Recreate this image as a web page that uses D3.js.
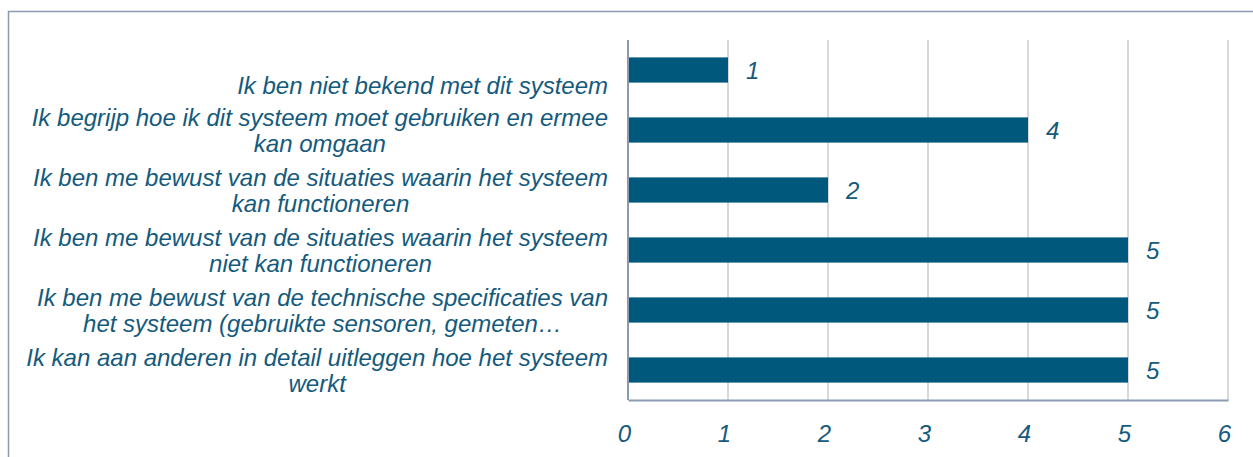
<!DOCTYPE html>
<html>
<head>
<meta charset="utf-8">
<script src="https://cdn.jsdelivr.net/npm/d3@7"></script>
<style>
  html, body { margin: 0; padding: 0; background: #fff; }
  svg { display: block; }
  text { font-family: "Liberation Sans", Arial, sans-serif; font-style: italic; fill: #145a7c; }
</style>
</head>
<body>
<div id="chart"></div>
<script>
// statements, top to bottom, each split into the lines shown
var categories = [
  ["Ik ben niet bekend met dit systeem"],
  ["Ik begrijp hoe ik dit systeem moet gebruiken en ermee", "kan omgaan"],
  ["Ik ben me bewust van de situaties waarin het systeem", "kan functioneren"],
  ["Ik ben me bewust van de situaties waarin het systeem", "niet kan functioneren"],
  ["Ik ben me bewust van de technische specificaties van", "het systeem (gebruikte sensoren, gemeten\u2026"],
  ["Ik kan aan anderen in detail uitleggen hoe het systeem", "werkt"]
];
var values    = [1, 4, 2, 5, 5, 5];
var tickVals  = [0, 1, 2, 3, 4, 5, 6];

var width  = 1253;
var height = 457;
var margin = { top: 40, right: 25, bottom: 57, left: 628 };

var svg = d3.select("#chart").append("svg")
  .attr("width", width)
  .attr("height", height);

// chart frame (only top and left edges are visible in the crop)
svg.append("path")
  .attr("d", "M8.5," + height + "V11.5H" + width)
  .attr("fill", "none")
  .attr("stroke", "#8a9ab0")
  .attr("stroke-width", 1.5);

var x = d3.scaleLinear()
  .domain([0, 6])
  .range([margin.left, width - margin.right]);

var y = d3.scaleBand()
  .domain(d3.range(categories.length))
  .range([margin.top, height - margin.bottom])
  .paddingInner(0.58)
  .paddingOuter(0.29);

var plotBottom = height - margin.bottom;

// vertical gridlines
svg.append("g")
  .selectAll("line")
  .data(tickVals.slice(1))
  .join("line")
    .attr("x1", function (d) { return x(d); })
    .attr("x2", function (d) { return x(d); })
    .attr("y1", margin.top)
    .attr("y2", plotBottom)
    .attr("stroke", "#d9d9d9")
    .attr("stroke-width", 2);

// bars
svg.append("g")
  .selectAll("rect")
  .data(values)
  .join("rect")
    .attr("x", x(0))
    .attr("y", function (d, i) { return y(i); })
    .attr("width", function (d) { return x(d) - x(0); })
    .attr("height", y.bandwidth())
    .attr("fill", "#00587d");

// value labels
svg.append("g")
  .selectAll("text")
  .data(values)
  .join("text")
    .attr("x", function (d) { return x(d) + 18; })
    .attr("y", function (d, i) { return y(i) + y.bandwidth() / 2 + 9; })
    .attr("font-size", 24)
    .text(function (d) { return d; });

// axes lines
svg.append("line")
  .attr("x1", x(0)).attr("x2", x(0))
  .attr("y1", margin.top).attr("y2", plotBottom)
  .attr("stroke", "#8a9ab0").attr("stroke-width", 2);

var xAxis = d3.axisBottom(x)
  .tickValues(tickVals)
  .tickSize(0)
  .tickPadding(25)
  .tickFormat(d3.format("d"));

var gx = svg.append("g")
  .attr("transform", "translate(0," + plotBottom + ")")
  .call(xAxis);
gx.select(".domain").attr("stroke", "#8a9ab0").attr("stroke-width", 2);
gx.selectAll(".tick text")
  .attr("font-size", 24)
  .attr("fill", null)
  .attr("dx", -4);
gx.attr("font-family", null).attr("font-size", null);

// category labels: block right-aligned, lines centred within the block
var labelRight = 608;
var labelG = svg.append("g").attr("font-size", 24);

categories.forEach(function (lines, i) {
  var g = labelG.append("g");
  var cy = y(i) + y.bandwidth() / 2;
  var offs = lines.length === 1 ? [24] : [-4, 22];
  var texts = g.selectAll("text")
    .data(lines)
    .join("text")
      .attr("y", function (d, j) { return cy + offs[j]; })
      .attr("text-anchor", "middle")
      .text(function (d) { return d; });
  var maxW = d3.max(texts.nodes(), function (n) { return n.getComputedTextLength(); });
  texts.attr("x", labelRight - maxW / 2);
});
</script>
</body>
</html>
